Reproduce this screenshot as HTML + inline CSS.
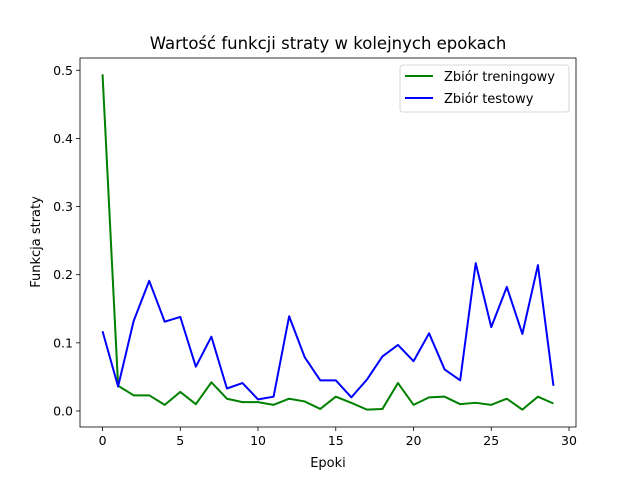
<!DOCTYPE html>
<html><head><meta charset="utf-8"><style>body{margin:0;background:#fff}svg{display:block;font-family:"DejaVu Sans","Liberation Sans",sans-serif}</style></head>
<body>
<svg id="chart" width="640" height="480"></svg>
<script>
const epochs=[...Array(30).keys()];
const trainLoss=[0.494,0.037,0.023,0.023,0.009,0.028,0.010,0.042,0.018,0.013,0.013,0.009,0.018,0.014,0.003,0.021,0.012,0.002,0.003,0.041,0.009,0.020,0.021,0.010,0.012,0.009,0.018,0.002,0.021,0.011];
const testLoss=[0.117,0.036,0.132,0.191,0.131,0.138,0.065,0.109,0.033,0.041,0.017,0.021,0.139,0.079,0.045,0.045,0.020,0.046,0.080,0.097,0.073,0.114,0.061,0.045,0.217,0.123,0.182,0.113,0.214,0.037];
const xTicks=[0,5,10,15,20,25,30];
const yTicks=[0.0,0.1,0.2,0.3,0.4,0.5];
const L=80,R=576,T=58,B=427;
const x=v=>L+(v+1.45)/(31.9)*(R-L);
const y=v=>B-(v+0.0235)/(0.5415)*(B-T);
const svg=document.getElementById('chart');
const NS='http://www.w3.org/2000/svg';
function el(t,a,txt){const e=document.createElementNS(NS,t);for(const k in a)e.setAttribute(k,a[k]);if(txt!=null)e.textContent=txt;svg.appendChild(e);return e;}
xTicks.forEach(v=>{const X=x(v);
const t=el('line',{x1:X,x2:X,y1:B,y2:B+4,stroke:'#000','stroke-width':0.8});


const l=el('text',{x:X,y:B+18,'font-size':12.5,'text-anchor':'middle'},String(v));

});
yTicks.forEach(v=>{const Y=y(v);
const t=el('line',{x1:L-4,x2:L,y1:Y,y2:Y,stroke:'#000','stroke-width':0.8});


const l=el('text',{x:L-7,y:Y+4.5,'font-size':12.5,'text-anchor':'end'},v.toFixed(1));

});
function series(d,c,n){const p=el('polyline',{points:d.map((v,i)=>x(epochs[i])+','+y(v)).join(' '),fill:'none',stroke:c,'stroke-width':2,'stroke-linejoin':'round'});

}
series(trainLoss,'#008000','train-loss-line');
series(testLoss,'#0000ff','test-loss-line');
</script>
<svg width="640" height="480" style="position:absolute;left:0;top:0;font-family:'DejaVu Sans','Liberation Sans',sans-serif">
<rect x="80" y="58" width="496" height="369" fill="none" stroke="#000" stroke-width="0.8"/>
<text x="328" y="49" font-size="16.5" text-anchor="middle">Wartość funkcji straty w kolejnych epokach</text>
<text x="328" y="467" font-size="13" text-anchor="middle">Epoki</text>
<text x="0" y="0" font-size="13" text-anchor="middle" transform="translate(40,242) rotate(-90)">Funkcja straty</text>
<g>
<rect x="400" y="65" width="169" height="47" rx="3" fill="#fff" stroke="#ccc" stroke-width="0.8"/>
<line x1="405" x2="433" y1="76" y2="76" stroke="#008000" stroke-width="2"/>
<text x="444" y="81" font-size="13">Zbiór treningowy</text>
<line x1="405" x2="433" y1="98" y2="98" stroke="#0000ff" stroke-width="2"/>
<text x="444" y="103" font-size="13">Zbiór testowy</text>
</g>
</svg>
</body></html>
